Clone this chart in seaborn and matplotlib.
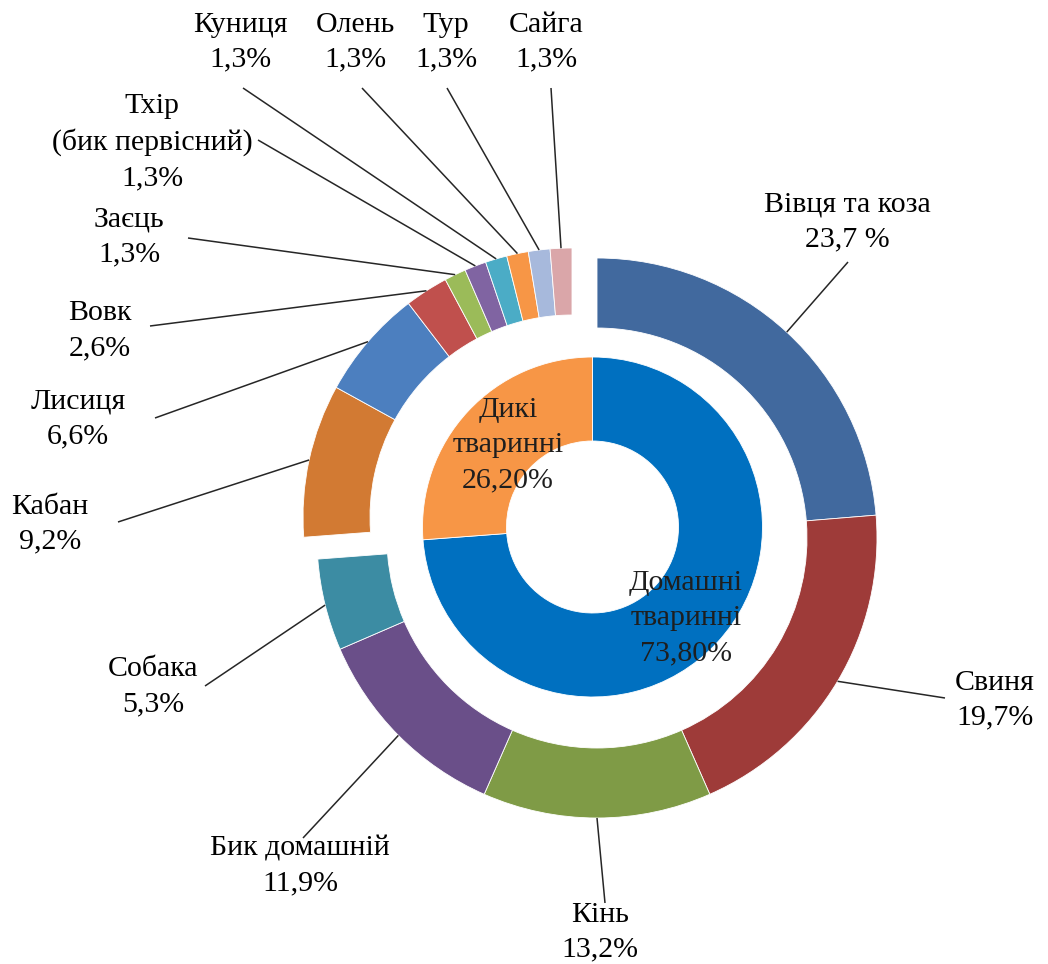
import numpy as np
import seaborn as sns
import matplotlib.pyplot as plt

W, H = 1048, 964

# data
group_names = ["Домашні\nтваринні", "Дикі\nтваринні"]
group_values = [73.8, 26.2]
group_colors = ["#0070C0", "#F79646"]

domestic_names = ["Вівця та коза", "Свиня", "Кінь", "Бик домашній", "Собака"]
domestic_values = [23.7, 19.7, 13.2, 11.9, 5.3]
domestic_colors = ["#41699E", "#9E3B39", "#7F9B46", "#6A4F89", "#3C8CA3"]

wild_names = ["Кабан", "Лисиця", "Вовк", "Заєць", "Тхір\n(бик первісний)",
              "Куниця", "Олень", "Тур", "Сайга"]
wild_values = [9.2, 6.6, 2.6, 1.3, 1.3, 1.3, 1.3, 1.3, 1.3]
wild_colors = ["#D27A33", "#4C7FBF", "#C0504D", "#9BBB59", "#8064A2",
               "#4BACC6", "#F79646", "#A7B9DC", "#DAA6A9"]

# layout (pixel coords of the reference, y from top)
inner_c, inner_r, inner_w = (592.5, 527), 170, 84
dom_c, dom_r, dom_w = (597, 538), 280, 70
wild_c, wild_r, wild_w = (572, 517), 269, 67

group_text_pos = [(686, 618), (508, 445)]
domestic_text_pos = [(847, 222), (995, 700), (600, 932), (300, 866), (153, 687)]
domestic_line_end = [(848, 262), (945, 698), (605, 903), (303, 838), (205, 686)]
wild_text_pos = [(50, 524), (78, 419), (100, 331), (129, 237), (152, 142),
                 (240, 42), (355, 42), (446, 42), (546, 42)]
wild_line_end = [(118, 522), (155, 418), (150, 326), (188, 238), (258, 140),
                 (243, 88), (362, 88), (447, 88), (551, 88)]


def fy(y):
    return H - y


def pct(v, digits=1, sep=""):
    return f"{v:.{digits}f}".replace(".", ",") + sep + "%"


sns.set_theme(style="white")
plt.rcParams["font.family"] = ["Liberation Serif", "DejaVu Serif"]

fig = plt.figure(figsize=(W / 100, H / 100), dpi=100)
ax = fig.add_axes([0, 0, 1, 1])

wp = dict(edgecolor="white", linewidth=0.6)
ax.pie(np.array(group_values) / 100, radius=inner_r, center=(inner_c[0], fy(inner_c[1])),
       startangle=90, counterclock=False, normalize=False, colors=group_colors,
       wedgeprops=dict(width=inner_w, **wp))
ax.pie(np.array(domestic_values) / 100, radius=dom_r, center=(dom_c[0], fy(dom_c[1])),
       startangle=90, counterclock=False, normalize=False, colors=domestic_colors,
       wedgeprops=dict(width=dom_w, **wp))
wild_start = 90 - 360 * sum(domestic_values) / 100
ax.pie(np.array(wild_values) / 100, radius=wild_r, center=(wild_c[0], fy(wild_c[1])),
       startangle=wild_start, counterclock=False, normalize=False, colors=wild_colors,
       wedgeprops=dict(width=wild_w, **wp))

fs = 21.5
ls = 1.45


def ring_labels(names, values, offset, center, r, text_pos, line_end, seps=None):
    cum = offset
    for i, (n, v) in enumerate(zip(names, values)):
        th = np.radians(360 * (cum + v / 2) / 100)
        cum += v
        ax0 = center[0] + r * np.sin(th)
        ay0 = fy(center[1]) + r * np.cos(th)
        lx, ly = line_end[i]
        ax.plot([ax0, lx], [ay0, fy(ly)], color="#262626", lw=1.1, solid_capstyle="butt")
        sep = seps[i] if seps else ""
        tx, ty = text_pos[i]
        ax.text(tx, fy(ty), n + "\n" + pct(v, 1, sep), ha="center", va="center",
                multialignment="center", fontsize=fs, color="black", linespacing=ls)


ring_labels(domestic_names, domestic_values, 0, dom_c, dom_r,
            domestic_text_pos, domestic_line_end, seps=[" ", "", "", "", ""])
ring_labels(wild_names, wild_values, sum(domestic_values), wild_c, wild_r,
            wild_text_pos, wild_line_end)

for n, v, (tx, ty) in zip(group_names, group_values, group_text_pos):
    ax.text(tx, fy(ty), n + "\n" + pct(v, 2), ha="center", va="center",
            multialignment="center", fontsize=fs, color="#1E1E1E", linespacing=ls)

ax.set_xlim(0, W)
ax.set_ylim(0, H)
ax.set_aspect("equal")
ax.axis("off")
fig.savefig("out.png", dpi=100, facecolor="white")
